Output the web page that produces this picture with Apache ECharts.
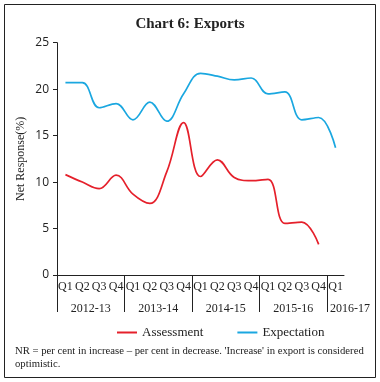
<!DOCTYPE html>
<html><head><meta charset="utf-8">
<script src="https://cdn.jsdelivr.net/npm/echarts@6/dist/echarts.min.js"></script>
<style>html,body{margin:0;padding:0;background:#fff}#c{width:380px;height:382px}</style>
</head><body><div id="c"></div>
<script>
var quarters = ['Q1','Q2','Q3','Q4','Q1','Q2','Q3','Q4','Q1','Q2','Q3','Q4','Q1','Q2','Q3','Q4','Q1'];
var years = ['2012-13','2013-14','2014-15','2015-16','2016-17'];
var yearQuarterCounts = [4,4,4,4,1];
var assessment = [10.8,10.0,9.3,10.75,8.7,7.7,11.1,16.4,10.6,12.4,10.5,10.15,10.3,5.55,5.7,3.3,null];
var expectation = [20.7,20.7,18.0,18.45,16.7,18.6,16.55,19.5,21.7,21.4,21.0,21.2,19.5,19.7,16.7,16.95,13.7];
var yTicks = [0,5,10,15,20,25];

// derived: year separator positions and label anchors (in quarter units)
var sepVals = [], labVals = [], acc = 0, labMap = {};
yearQuarterCounts.forEach(function(n, i){
  sepVals.push(acc);
  var v = n === 4 ? acc + n/2 : acc;
  labVals.push(v);
  labMap[v] = n === 4 ? years[i] : '{l|' + years[i] + '}';
  acc += n;
});

var serif = '"Liberation Serif", "DejaVu Serif", serif';
var chart = echarts.init(document.getElementById('c'));
chart.setOption({
  animation: false,
  title: [{
    text: 'Chart 6: Exports', left: 'center', top: 12,
    textStyle: {fontFamily: serif, fontSize: 15, fontWeight: 'bold', color: '#222'}
  }, {
    text: 'NR = per cent in increase – per cent in decrease. \'Increase\' in export is considered\noptimistic.',
    left: 10, top: 339,
    textStyle: {fontFamily: serif, fontSize: 10.7, fontWeight: 'normal', color: '#222', lineHeight: 13.6}
  }],
  graphic: [{type: 'rect', shape: {x: 4.5, y: 4.5, width: 371, height: 373}, style: {fill: 'none', stroke: '#222', lineWidth: 1}}],
  legend: {
    bottom: 38, left: 112, itemGap: 34, icon: 'rect', itemWidth: 20, itemHeight: 2,
    textStyle: {fontFamily: serif, fontSize: 13, color: '#222'},
    data: ['Assessment','Expectation']
  },
  grid: {left: 57, right: 36, top: 42.7, bottom: 107, containLabel: false},
  xAxis: [{
    type: 'category', data: quarters, boundaryGap: true,
    axisLine: {lineStyle: {color: '#222', width: 1}},
    axisTick: {inside: true, length: 3, lineStyle: {color: '#222'}},
    axisLabel: {fontFamily: serif, fontSize: 12, color: '#222', margin: 6, interval: 0}
  }, {
    type: 'value', min: 0, max: quarters.length, position: 'bottom',
    axisLine: {show: false},
    splitLine: {show: false},
    axisTick: {show: true, length: 37, lineStyle: {color: '#222'}, customValues: sepVals},
    axisLabel: {show: true, customValues: labVals, margin: 28, fontFamily: serif, fontSize: 12, color: '#222',
      formatter: function(v){ return labMap[v] || ''; },
      rich: {l: {fontFamily: serif, fontSize: 12, color: '#222', padding: [0, 0, 0, 46]}}}
  }],
  yAxis: {
    type: 'value', min: 0, max: 25, interval: 5,
    name: 'Net Response(%)', nameLocation: 'middle', nameGap: 30, nameMoveOverlap: false,
    nameTextStyle: {fontFamily: serif, fontSize: 12, color: '#222'},
    axisLine: {show: true, lineStyle: {color: '#222'}},
    axisTick: {show: true, length: 4, lineStyle: {color: '#222'}},
    axisLabel: {fontFamily: '"Open Sans", "DejaVu Sans", sans-serif', fontSize: 12, color: '#222', margin: 8,
      customValues: yTicks},
    splitLine: {show: false}
  },
  series: [{
    name: 'Assessment', type: 'line', data: assessment, smooth: 0.4, symbol: 'none',
    lineStyle: {color: '#e5202b', width: 1.7}, itemStyle: {color: '#e5202b'}
  }, {
    name: 'Expectation', type: 'line', data: expectation, smooth: 0.4, symbol: 'none',
    lineStyle: {color: '#1aa7e0', width: 1.7}, itemStyle: {color: '#1aa7e0'}
  }]
});
</script></body></html>
